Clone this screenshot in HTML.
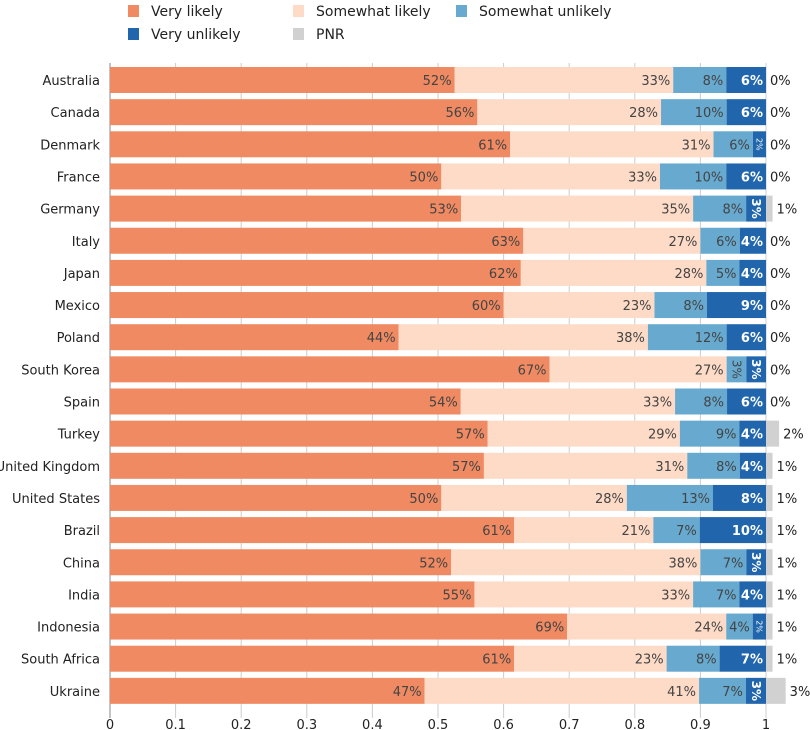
<!DOCTYPE html>
<html><head><meta charset="utf-8"><style>
body{margin:0;background:#fff;}
svg{display:block;font-family:"DejaVu Sans","Liberation Sans",sans-serif;}
</style></head><body>
<svg id="chart" width="810" height="730"></svg>
<script>
const countries=["Australia","Canada","Denmark","France","Germany","Italy","Japan","Mexico","Poland","South Korea","Spain","Turkey","United Kingdom","United States","Brazil","China","India","Indonesia","South Africa","Ukraine"];
const veryLikely=[52,56,61,50,53,63,62,60,44,67,54,57,57,50,61,52,55,69,61,47];
const somewhatLikely=[33,28,31,33,35,27,28,23,38,27,33,29,31,28,21,38,33,24,23,41];
const somewhatUnlikely=[8,10,6,10,8,6,5,8,12,3,8,9,8,13,7,7,7,4,8,7];
const veryUnlikely=[6,6,2,6,3,4,4,9,6,3,6,4,4,8,10,3,4,2,7,3];
const pnr=[0,0,0,0,1,0,0,0,0,0,0,2,1,1,1,1,1,1,1,3];
const xTicks=[0,0.1,0.2,0.3,0.4,0.5,0.6,0.7,0.8,0.9,1];
const seriesNames=["Very likely","Somewhat likely","Somewhat unlikely","Very unlikely","PNR"];
const colors=["#ef8a62","#fddbc7","#67a9cf","#2166ac","#d1d1d1"];

const NS="http://www.w3.org/2000/svg";
const svg=document.getElementById('chart');
const X0=110,X1=766,Y0=63,STEP=32.15,BH=26,FIRST=80;
const x=v=>X0+v*(X1-X0);
const yc=i=>FIRST+i*STEP;
function mk(tag,attrs,parent){const e=document.createElementNS(NS,tag);for(const k in attrs)e.setAttribute(k,attrs[k]);(parent||svg).appendChild(e);return e;}

// legend
const legPos=[[128,11],[293,11],[456,11],[128,34],[293,34]];
seriesNames.forEach((n,i)=>{
  const g=mk('g',{});
  
  
  mk('rect',{x:legPos[i][0],y:legPos[i][1]-6,width:11,height:12,fill:colors[i]},g);
  const t=mk('text',{x:legPos[i][0]+23,y:legPos[i][1]+5,'font-size':14,fill:'#222'},g);
  t.textContent=n;
});

// grid
const grid=mk('g',{});


xTicks.forEach(t=>{
  mk('line',{x1:x(t),x2:x(t),y1:Y0,y2:718,stroke:t===0?'#888':'#ccc','stroke-width':1},grid);
  const lb=mk('text',{x:x(t),y:729,'text-anchor':'middle','font-size':13,fill:'#222'},grid);
  
  
  lb.textContent=String(t);
});

const ctx=document.createElement('canvas').getContext('2d');
function tw(s,fs,b){ctx.font=(b?'bold ':'')+fs+'px "DejaVu Sans"';return ctx.measureText(s).width;}

countries.forEach((c,i)=>{
  const cy=yc(i);
  const lab=mk('text',{x:100,y:cy+5,'text-anchor':'end','font-size':13,fill:'#222'});
  
  
  lab.textContent=c;
  const vals=[veryLikely[i],somewhatLikely[i],somewhatUnlikely[i],veryUnlikely[i]];
  const sum=vals.reduce((a,b)=>a+b,0);
  let cum=0;
  vals.forEach((v,s)=>{
    const a=x(cum/sum),b=x((cum+v)/sum);cum+=v;
    const r=mk('rect',{x:a,y:cy-BH/2,width:b-a,height:BH,fill:colors[s]});
    
    
    const w=b-a,s1=v+'%',bold=s===3;
    const fill=s===3?'#fff':'#444';
    let fs=13;
    const t=mk('text',{fill:fill,'font-size':fs,'font-weight':bold?'bold':'normal'});
    
    
    t.textContent=s1;
    if(w<tw(s1,13,bold)+4){
      if(w<14){fs=8;}else fs=12;
      if(fs===8)t.setAttribute('font-weight','normal');
      t.setAttribute('font-size',fs);
      const tx=(a+b)/2-fs*0.35;
      t.setAttribute('transform','translate('+tx+','+(cy)+') rotate(90)');
      t.setAttribute('text-anchor','middle');
    }else{
      t.setAttribute('x',b-3);t.setAttribute('y',cy+5);t.setAttribute('text-anchor','end');
    }
  });
  const pe=x(1+pnr[i]/100);
  if(pnr[i]>0){
    const r=mk('rect',{x:X1,y:cy-BH/2,width:pe-X1,height:BH,fill:colors[4]});
    
    
  }
  const pt=mk('text',{x:Math.max(X1,pe)+4,y:cy+5,'font-size':13,fill:'#222'});
  
  
  pt.textContent=pnr[i]+'%';
});
</script>
</body></html>
